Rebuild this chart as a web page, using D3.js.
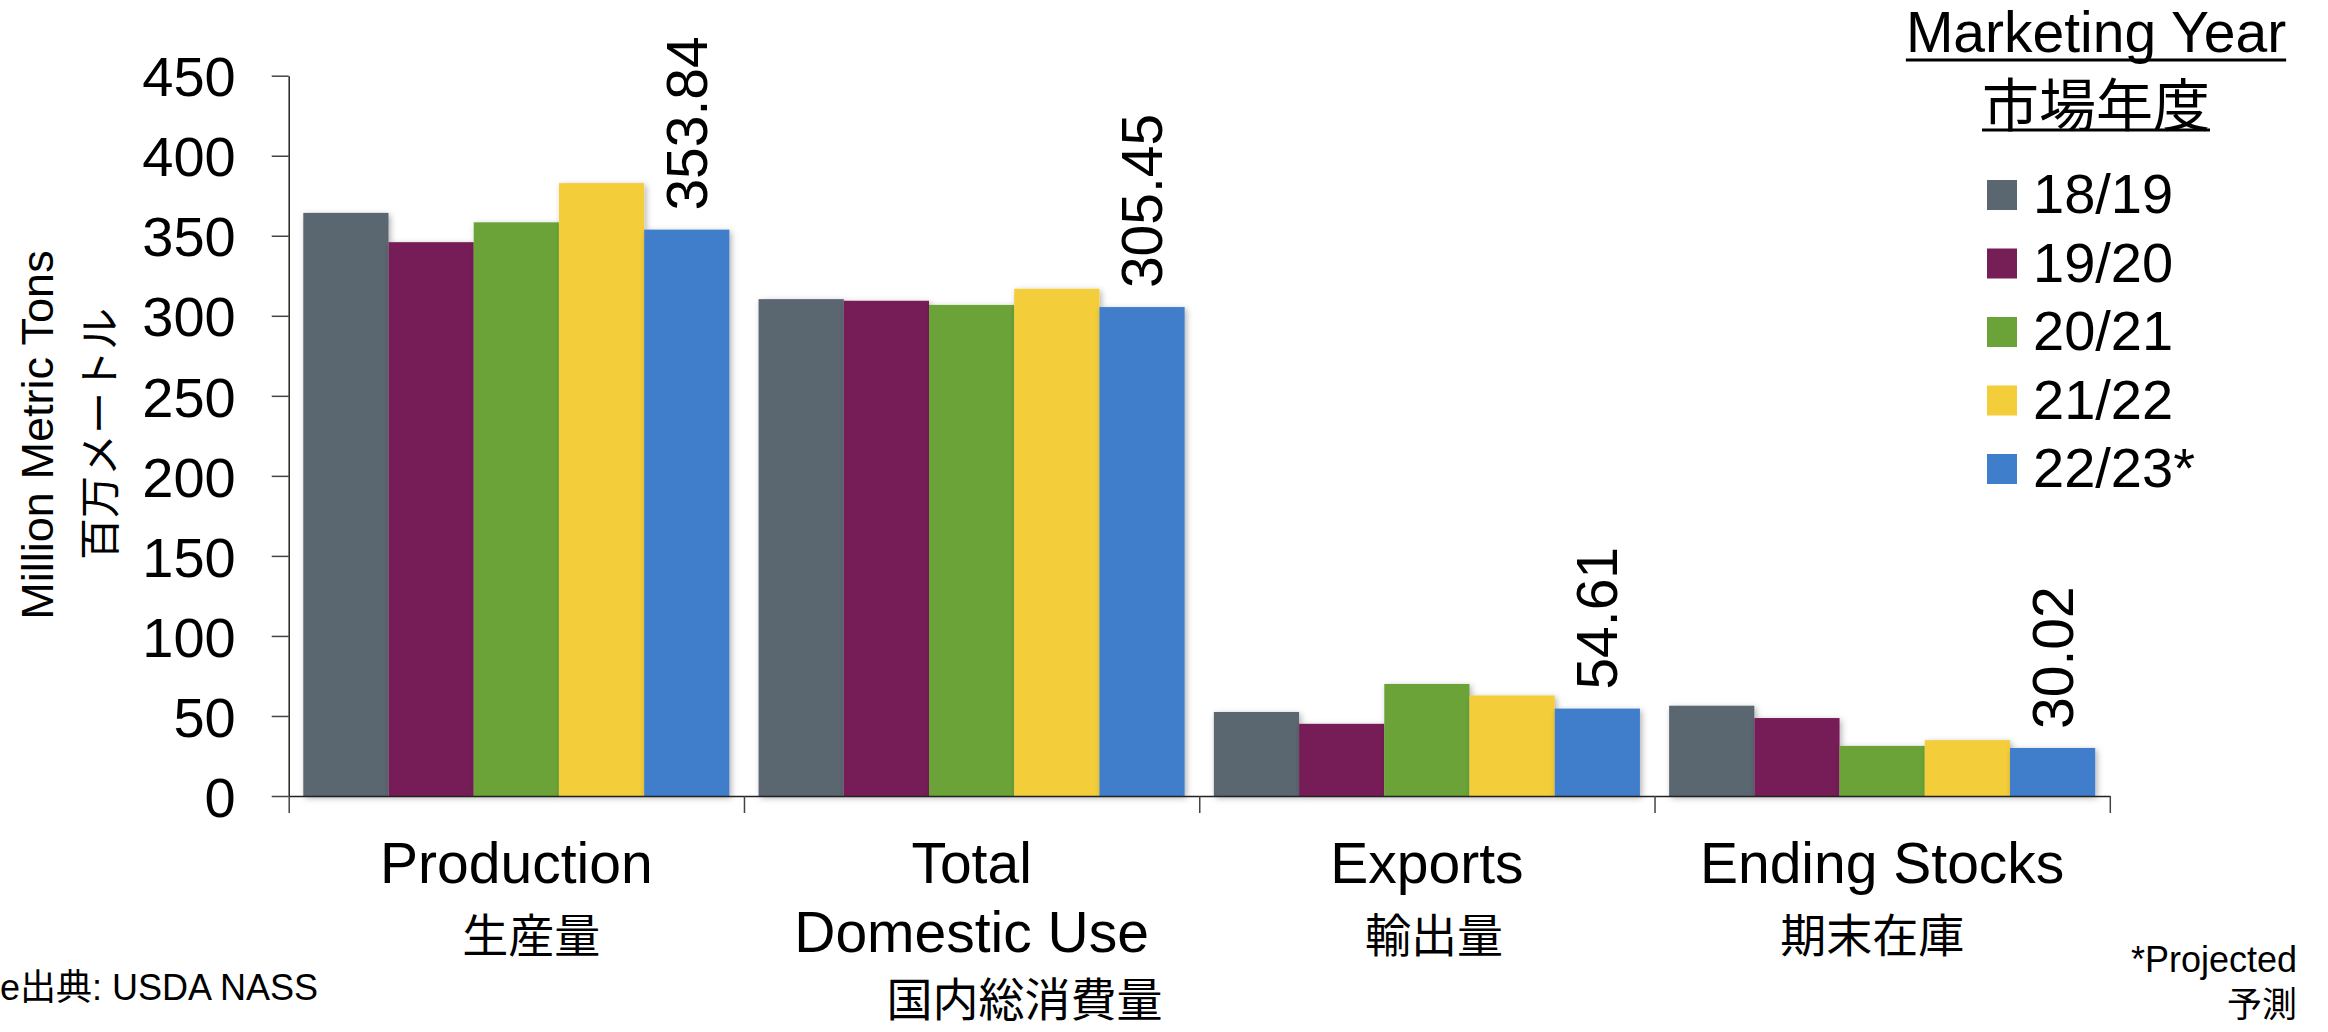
<!DOCTYPE html>
<html>
<head>
<meta charset="utf-8">
<script src="https://cdn.jsdelivr.net/npm/d3@7"></script>
<style>
  html, body { margin: 0; padding: 0; background: #fff; }
  svg { display: block; }
  text { font-family: "Liberation Sans", Arial, Helvetica, sans-serif; fill: #000; }
  .jp { font-family: "Noto Sans CJK JP", "Liberation Sans", sans-serif; }
</style>
</head>
<body>
<svg id="chart" width="2328" height="1032"></svg>
<script>
// ---- data ----
const categories = ["Production", "Total Domestic Use", "Exports", "Ending Stocks"];
const categoryLabelsEn = [["Production"], ["Total", "Domestic Use"], ["Exports"], ["Ending Stocks"]];
const categoryLabelsJp = ["生産量", "国内総消費量", "輸出量", "期末在庫"];
const seriesNames = ["18/19", "19/20", "20/21", "21/22", "22/23*"];
const seriesColors = ["#5a6670", "#761f56", "#6ca338", "#f4cd3b", "#3f7ecb"];
const values1819 = [364.3, 310.4, 52.5, 56.4];
const values1920 = [346.0, 309.4, 45.1, 48.7];
const values2021 = [358.4, 306.8, 70.0, 31.3];
const values2122 = [382.9, 316.9, 62.8, 34.9];
const values2223 = [353.84, 305.45, 54.61, 30.02];
const labelledSeries = "22/23*";
const yTicks = [0, 50, 100, 150, 200, 250, 300, 350, 400, 450];

const seriesValues = [values1819, values1920, values2021, values2122, values2223];

// ---- layout ----
const svg = d3.select("#chart");
const M = { left: 288.7, right: 2109.8, top: 75.7, bottom: 796 };
const jpOffsets = [15, 53, 7, -10];

const x0 = d3.scaleBand().domain(categories).range([M.left, M.right]).padding(0);
const innerPad = 14.6;
const x1 = d3.scaleBand().domain(seriesNames).range([innerPad, x0.bandwidth() - innerPad]).padding(0);
const y = d3.scaleLinear().domain([0, 450]).range([M.bottom, M.top]);
const color = d3.scaleOrdinal().domain(seriesNames).range(seriesColors);

const defs = svg.append("defs");
const f = defs.append("filter").attr("id", "shadow").attr("x", "-20%").attr("y", "-20%").attr("width", "140%").attr("height", "140%");
f.append("feDropShadow").attr("dx", 2).attr("dy", 2).attr("stdDeviation", 3)
  .attr("flood-color", "#000").attr("flood-opacity", 0.3);

// bars
const rows = categories.map((c, i) => ({
  cat: c,
  items: seriesNames.map((s, j) => ({ cat: c, s: s, v: seriesValues[j][i] }))
}));

const groups = svg.append("g").selectAll("g").data(rows).join("g")
  .attr("transform", d => `translate(${x0(d.cat)},0)`);

groups.selectAll("rect").data(d => d.items).join("rect")
  .attr("x", d => x1(d.s))
  .attr("y", d => y(d.v))
  .attr("width", x1.bandwidth())
  .attr("height", d => y(0) - y(d.v))
  .attr("fill", d => color(d.s))
  .attr("filter", "url(#shadow)");

// value labels (rotated)
groups.selectAll("text.val").data(d => d.items.filter(e => e.s === labelledSeries)).join("text")
  .attr("class", "val")
  .attr("transform", d => `translate(${x1(d.s) + x1.bandwidth() / 2},${y(d.v) - 19}) rotate(-90)`)
  .attr("text-anchor", "start")
  .attr("dominant-baseline", "central")
  .style("font-size", "57px")
  .text(d => d3.format(".2f")(d.v));

// y axis
const yAxis = d3.axisLeft(y).tickValues(yTicks).tickSize(17).tickPadding(36).tickSizeOuter(0);
const gy = svg.append("g").attr("transform", `translate(${M.left},0)`).call(yAxis);
gy.select(".domain").attr("stroke", "#222").attr("stroke-width", 1.5);
gy.selectAll(".tick line").attr("stroke", "#444").attr("stroke-width", 1.5);
gy.selectAll(".tick text").style("font-size", "56px").attr("font-family", null).attr("dy", "0.36em");

// x axis
const xAxis = d3.axisBottom(d3.scaleLinear().domain([0, 4]).range([M.left, M.right]))
  .tickValues([0, 1, 2, 3, 4]).tickSize(17).tickSizeOuter(0).tickFormat("");
const gx = svg.append("g").attr("transform", `translate(0,${M.bottom})`).call(xAxis);
gx.select(".domain").attr("stroke", "#222").attr("stroke-width", 1.5);
gx.selectAll(".tick line").attr("stroke", "#444").attr("stroke-width", 1.5);

// category labels
categories.forEach((c, i) => {
  const cx = x0(c) + x0.bandwidth() / 2;
  const lines = categoryLabelsEn[i];
  lines.forEach((ln, k) => {
    svg.append("text").attr("x", cx).attr("y", 883 + k * 68.5)
      .attr("text-anchor", "middle").style("font-size", "57px").text(ln);
  });
  svg.append("text").attr("class", "jp")
    .attr("x", cx + jpOffsets[i]).attr("y", lines.length > 1 ? 996 : 932)
    .attr("text-anchor", "middle").attr("dominant-baseline", "central")
    .style("font-size", "46px").text(categoryLabelsJp[i]);
});

// y axis title
svg.append("text").attr("transform", "translate(53,435) rotate(-90)")
  .attr("text-anchor", "middle").style("font-size", "45px").text("Million Metric Tons");
svg.append("text").attr("class", "jp").attr("transform", "translate(96,434) rotate(-90)")
  .attr("text-anchor", "middle").attr("dominant-baseline", "central")
  .style("font-size", "42px").text("百万メートル");

// legend
const lx = 2096;
const t1 = svg.append("text").attr("x", lx).attr("y", 52).attr("text-anchor", "middle")
  .style("font-size", "57px").text("Marketing Year");
const t2 = svg.append("text").attr("class", "jp").attr("x", lx).attr("y", 101).attr("text-anchor", "middle")
  .attr("dominant-baseline", "central").style("font-size", "57px").text("市場年度");
[[t1, 60], [t2, 130]].forEach(([t, yy]) => {
  const bb = t.node().getBBox();
  svg.append("line").attr("x1", bb.x).attr("x2", bb.x + bb.width).attr("y1", yy).attr("y2", yy)
    .attr("stroke", "#000").attr("stroke-width", 3);
});

const leg = svg.append("g").selectAll("g").data(seriesNames).join("g")
  .attr("transform", (d, i) => `translate(1987,${180 + i * 68.5})`);
leg.append("rect").attr("width", 30).attr("height", 30).attr("fill", d => color(d));
leg.append("text").attr("x", 46).attr("y", 33).style("font-size", "56px").text(d => d);

// notes
svg.append("text").attr("x", 0).attr("y", 1000).style("font-size", "36px")
  .html('e<tspan class="jp">出典</tspan>: USDA NASS');
svg.append("text").attr("x", 2297).attr("y", 972).attr("text-anchor", "end")
  .style("font-size", "36px").text("*Projected");
svg.append("text").attr("class", "jp").attr("x", 2297).attr("y", 1001).attr("text-anchor", "end")
  .attr("dominant-baseline", "central").style("font-size", "35px").text("予測");
</script>
</body>
</html>
